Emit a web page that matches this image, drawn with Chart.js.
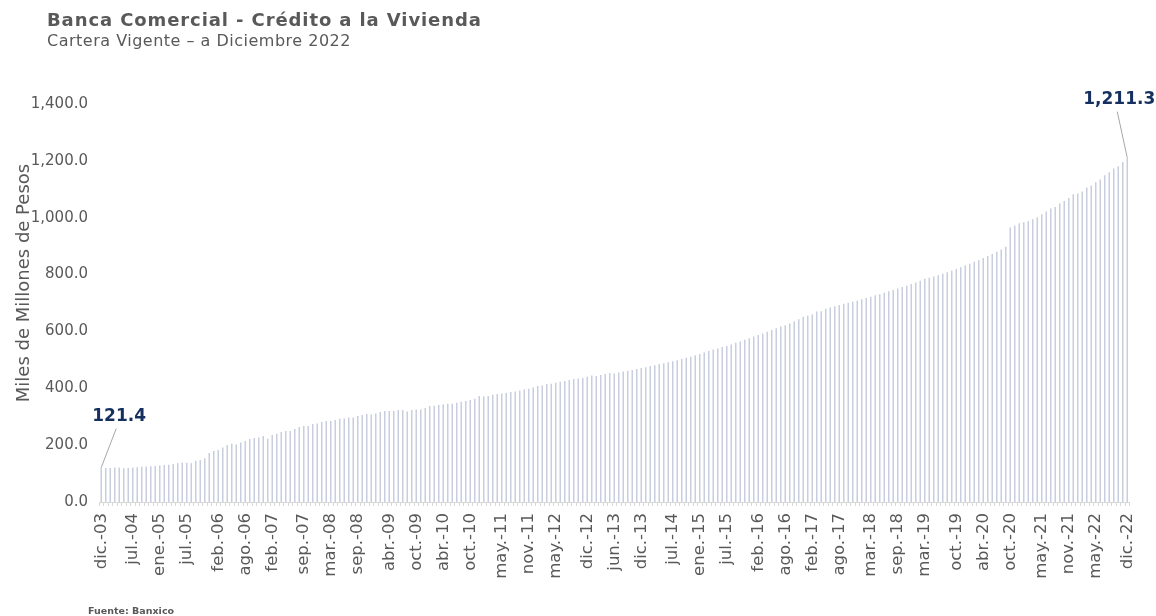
<!DOCTYPE html>
<html><head><meta charset="utf-8">
<script src="https://cdn.jsdelivr.net/npm/chart.js@4.4.0/dist/chart.umd.min.js"></script>
<style>html,body{margin:0;padding:0;background:#fff;}#wrap{width:1156px;height:616px;position:relative;}</style>
</head><body><div id="wrap"><canvas id="c" width="1156" height="616"></canvas></div>
<script>
const titleText = 'Banca Comercial - Crédito a la Vivienda';
const subtitleText = 'Cartera Vigente – a Diciembre 2022';
const yAxisTitle = 'Miles de Millones de Pesos';
const sourceText = 'Fuente: Banxico';

const monthAbbr = ['ene','feb','mar','abr','may','jun','jul','ago','sep','oct','nov','dic'];
const startYear = 2003, startMonthIdx = 11, monthCount = 229;
const categories = [];
for (let i = 0; i < monthCount; i++) {
  const m = (startMonthIdx + i) % 12;
  const y = startYear + Math.floor((startMonthIdx + i) / 12);
  categories.push(monthAbbr[m] + '.-' + String(y % 100).padStart(2, '0'));
}

const shownTicks = ['dic.-03','jul.-04','ene.-05','jul.-05','feb.-06','ago.-06','feb.-07','sep.-07','mar.-08','sep.-08','abr.-09','oct.-09','abr.-10','oct.-10','may.-11','nov.-11','may.-12','dic.-12','jun.-13','dic.-13','jul.-14','ene.-15','jul.-15','feb.-16','ago.-16','feb.-17','ago.-17','mar.-18','sep.-18','mar.-19','oct.-19','abr.-20','oct.-20','may.-21','nov.-21','may.-22','dic.-22'];

// Cartera vigente, miles de millones de pesos (monthly)
const v2003 = [121.4];
const v2004 = [120.0, 120.0, 121.0, 121.0, 118.5, 120.0, 121.0, 122.0, 124.0, 124.5, 125.5, 127.0];
const v2005 = [128.0, 130.0, 131.0, 134.0, 136.0, 139.0, 138.0, 136.0, 145.3, 147.6, 153.5, 172.2];
const v2006 = [179.3, 182.8, 192.1, 200.4, 205.0, 202.7, 209.7, 214.4, 221.4, 225.0, 227.3, 232.0];
const v2007 = [222.6, 235.5, 240.2, 246.0, 249.6, 249.6, 256.6, 263.6, 267.5, 267.1, 274.2, 276.5];
const v2008 = [281.2, 284.7, 284.7, 288.2, 292.9, 294.1, 297.6, 297.6, 302.3, 305.8, 309.3, 308.2];
const v2009 = [311.7, 316.3, 319.9, 319.9, 319.9, 323.4, 323.4, 318.0, 323.4, 325.7, 325.7, 330.4];
const v2010 = [337.4, 338.6, 341.0, 343.3, 345.6, 345.6, 349.2, 352.7, 355.0, 358.5, 363.2, 372.6];
const v2011 = [371.4, 372.6, 377.3, 379.6, 382.0, 383.1, 386.6, 389.0, 392.0, 396.0, 398.4, 403.0];
const v2012 = [407.7, 410.1, 414.8, 415.9, 419.5, 423.0, 425.3, 428.8, 432.3, 434.7, 435.9, 440.5];
const v2013 = [445.2, 442.9, 446.4, 449.9, 453.4, 452.3, 455.8, 459.0, 462.0, 464.0, 468.0, 471.0];
const v2014 = [474.0, 478.0, 481.0, 485.0, 488.0, 492.0, 495.0, 499.0, 503.0, 507.0, 511.0, 516.0];
const v2015 = [521.0, 526.0, 531.0, 536.6, 540.1, 544.8, 549.0, 554.0, 560.0, 565.0, 571.0, 576.0];
const v2016 = [582.0, 587.0, 593.0, 599.0, 605.0, 611.0, 617.0, 622.0, 628.0, 635.0, 643.2, 651.4];
const v2017 = [655.0, 659.6, 670.2, 671.4, 679.5, 684.0, 689.0, 693.0, 697.0, 701.0, 704.0, 708.0];
const v2018 = [713.0, 718.0, 722.0, 727.0, 731.0, 736.0, 741.0, 746.0, 751.0, 756.0, 761.0, 767.0];
const v2019 = [772.0, 778.0, 785.0, 788.4, 793.0, 798.0, 803.0, 808.0, 814.0, 820.0, 826.0, 832.0];
const v2020 = [838.0, 845.0, 851.0, 858.0, 865.0, 872.0, 880.0, 888.0, 897.5, 965.5, 972.5, 980.7];
const v2021 = [984.2, 987.7, 994.7, 1000.6, 1012.0, 1022.0, 1032.2, 1038.0, 1049.8, 1059.2, 1069.7, 1082.6];
const v2022 = [1085.0, 1092.0, 1106.0, 1113.0, 1124.8, 1134.2, 1149.4, 1160.0, 1172.9, 1181.0, 1196.3, 1211.3];
const values = [].concat(v2003, v2004, v2005, v2006, v2007, v2008, v2009, v2010, v2011, v2012,
  v2013, v2014, v2015, v2016, v2017, v2018, v2019, v2020, v2021, v2022);

const FONT = '"DejaVu Sans", "Noto Sans", sans-serif';
const GRAY = '#595959';
const NAVY = '#15305f';

const overlay = {
  id: 'overlay',
  afterDraw(chart) {
    const ctx = chart.ctx, xs = chart.scales.x, ys = chart.scales.y;
    ctx.save();
    ctx.fillStyle = GRAY; ctx.textAlign = 'left'; ctx.textBaseline = 'alphabetic';
    ctx.font = 'bold 18px ' + FONT; ctx.letterSpacing = '0.9px'; ctx.fillText(titleText, 47, 26);
    ctx.font = '16px ' + FONT; ctx.letterSpacing = '0.5px'; ctx.fillText(subtitleText, 47, 46);
    ctx.letterSpacing = '0px';
    // y axis title
    ctx.save();
    ctx.translate(24, 283); ctx.rotate(-Math.PI / 2);
    ctx.textAlign = 'center'; ctx.textBaseline = 'middle';
    ctx.font = '18px ' + FONT; ctx.fillText(yAxisTitle, 0, 0);
    ctx.restore();
    // source
    ctx.font = 'bold 9.5px ' + FONT; ctx.fillText(sourceText, 88, 614);
    // data labels with leader lines
    const i0 = 0, i1 = values.length - 1;
    const x0 = xs.getPixelForValue(i0), y0 = ys.getPixelForValue(values[i0]);
    const x1 = xs.getPixelForValue(i1), y1 = ys.getPixelForValue(values[i1]);
    ctx.strokeStyle = '#a6a6a6'; ctx.lineWidth = 1;
    ctx.beginPath(); ctx.moveTo(x0, y0); ctx.lineTo(x0 + 15, y0 - 39); ctx.stroke();
    ctx.beginPath(); ctx.moveTo(x1, y1); ctx.lineTo(x1 - 10, y1 - 46); ctx.stroke();
    ctx.fillStyle = NAVY; ctx.font = 'bold 17px ' + FONT;
    const fmt = v => v.toLocaleString('en-US', {minimumFractionDigits: 1, maximumFractionDigits: 1});
    ctx.fillText(fmt(values[i0]), x0 - 9, y0 - 46);
    ctx.fillText(fmt(values[i1]), x1 - 44, y1 - 54);
    ctx.restore();
  }
};

new Chart(document.getElementById('c'), {
  type: 'bar',
  data: {
    labels: categories,
    datasets: [{
      data: values,
      backgroundColor: '#c9cedf',
      borderWidth: 0,
      categoryPercentage: 1.0,
      barPercentage: 0.34
    }]
  },
  options: {
    responsive: false,
    animation: false,
    devicePixelRatio: 1,
    layout: { padding: { top: 104, right: 26.5, bottom: 0, left: 0 } },
    plugins: { legend: { display: false }, tooltip: { enabled: false }, title: { display: false } },
    scales: {
      x: {
        afterFit: s => { s.height = 114; },
        grid: { display: true, drawOnChartArea: false, drawTicks: true, tickLength: 4, color: '#d9d9d9', offset: true },
        border: { display: true, color: '#d9d9d9' },
        ticks: {
          autoSkip: false, minRotation: 90, maxRotation: 90, padding: 7,
          color: GRAY, font: { family: FONT, size: 16.5 },
          callback: function (v, i) { const lab = categories[i]; return shownTicks.includes(lab) ? lab : ''; }
        }
      },
      y: {
        min: 0, max: 1400,
        afterFit: s => { s.width = 99; },
        grid: { display: false, drawTicks: false },
        border: { display: false },
        ticks: {
          stepSize: 200, padding: 11, color: GRAY, font: { family: FONT, size: 15 },
          callback: v => v.toLocaleString('en-US', {minimumFractionDigits: 1, maximumFractionDigits: 1})
        }
      }
    }
  },
  plugins: [overlay]
});
</script></body></html>
